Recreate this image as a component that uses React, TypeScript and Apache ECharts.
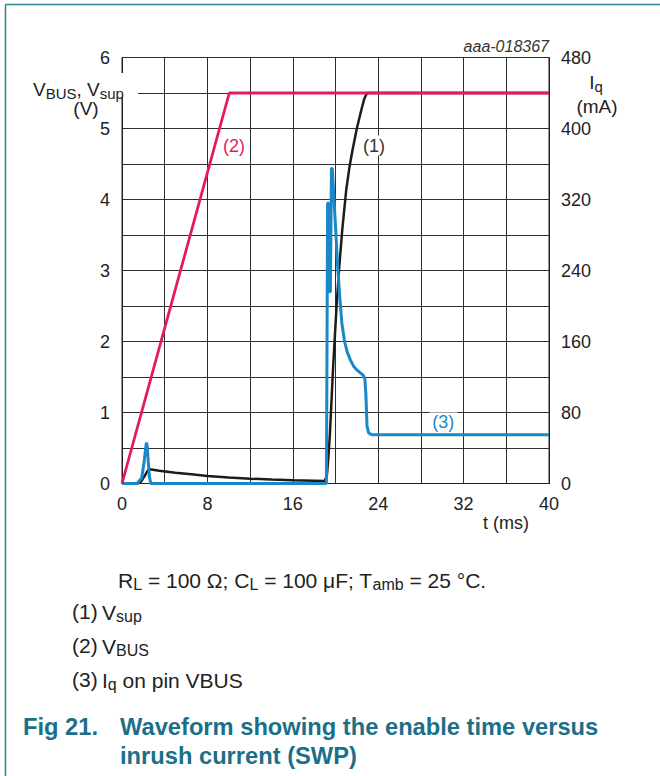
import React, { useEffect, useRef } from "react";
import * as echarts from "echarts";

const FONT = '"Liberation Sans", Arial, Helvetica, sans-serif';
const TEAL = "#1b6f88";
const BORDER = "#2a8595";
const RED = "#e6195c";
const BLUE = "#1a87c8";
const BLACK = "#1c1c1c";
const TXT = "#222222";

// VBUS (V), curve (2)
const tVbus = [0, 10.05, 40];
const vVbus = [0, 5.5, 5.5];

// Vsup (V), curve (1)
const tVsup = [0, 1.5, 1.8, 2.1, 2.4, 2.6, 3.5, 5, 6.5, 8, 10, 12, 14, 16, 18, 19.0, 19.2, 19.35, 19.48, 19.63, 19.78, 19.95, 20.1, 20.35, 20.63, 21.0, 21.3, 21.6, 22.0, 22.4, 22.7, 22.95, 40];
const vVsup = [0, 0, 0.03, 0.1, 0.18, 0.2, 0.18, 0.15, 0.13, 0.105, 0.085, 0.068, 0.055, 0.045, 0.04, 0.035, 0.12, 0.4, 0.71, 1.18, 1.65, 2.1, 2.5, 3.05, 3.57, 4.13, 4.45, 4.7, 5.0, 5.25, 5.42, 5.5, 5.5];

// Iq (mA), curve (3)
const tIq = [0, 1.4, 1.84, 2.06, 2.25, 2.31, 2.38, 2.43, 2.56, 2.7, 19.15, 19.22, 19.26, 19.34, 19.4, 19.52, 19.62, 19.7, 19.85, 20.0, 20.2, 20.4, 20.6, 20.85, 21.1, 21.4, 21.7, 22.0, 22.3, 22.6, 22.75, 22.85, 22.95, 23.1, 23.4, 40];
const iIq = [0, 0, 6, 23, 43, 46, 40, 30, 8, 0, 0, 200, 316, 316, 216, 216, 355, 355, 322, 290, 245, 210, 180, 160, 148, 139, 132, 128, 125, 122, 118, 100, 65, 57, 55, 55];

const curveLabels = [
  { text: "(1)", t: 23.6, v: 4.76, color: "#333333" },
  { text: "(2)", t: 10.5, v: 4.75, color: RED },
  { text: "(3)", t: 30.1, v: 0.86, color: BLUE },
];

const zip = (a: number[], b: number[]) => a.map((x, i) => [x, b[i]]);

const rich = (size: number, color: string, lh = size + 2) => ({
  n: { fontSize: size, fontFamily: FONT, color, lineHeight: lh },
  s: { fontSize: Math.round(size * 0.78), fontFamily: FONT, color, lineHeight: lh, padding: [Math.round(size * 0.42), 0, 0, 0] },
});

export default function App() {
  const ref = useRef<HTMLDivElement>(null);
  useEffect(() => {
    document.body.style.margin = "0";
    const chart = echarts.init(ref.current!, null, { renderer: "svg", width: 660, height: 776 });
    const axisLabelBase = { fontSize: 18, color: TXT, fontFamily: FONT };
    chart.setOption({
      animation: false,
      backgroundColor: "#ffffff",
      grid: { left: 122, top: 57.5, width: 427, height: 426, show: true, borderColor: "#222", borderWidth: 1 },
      xAxis: {
        type: "value", min: 0, max: 40, interval: 4,
        axisLine: { show: true, lineStyle: { color: "#222", width: 1 } },
        axisTick: { show: false },
        splitLine: { show: true, lineStyle: { color: "#2e2e2e", width: 1 } },
        axisLabel: { ...axisLabelBase, margin: 11, formatter: (v: number) => (v % 8 === 0 ? String(v) : "") },
      },
      yAxis: [
        {
          type: "value", min: 0, max: 6, interval: 0.5,
          axisLine: { show: true, lineStyle: { color: "#222", width: 1 } },
          axisTick: { show: false },
          splitLine: { show: true, lineStyle: { color: "#2e2e2e", width: 1 } },
          axisLabel: { ...axisLabelBase, margin: 12, formatter: (v: number) => (Number.isInteger(v) ? String(v) : "") },
        },
        {
          type: "value", min: 0, max: 480, interval: 40, position: "right",
          axisLine: { show: true, lineStyle: { color: "#222", width: 1 } },
          axisTick: { show: false },
          splitLine: { show: false },
          axisLabel: { ...axisLabelBase, margin: 12, formatter: (v: number) => (v % 80 === 0 ? String(v) : "") },
        },
      ],
      series: [
        { name: "Vsup", type: "line", data: zip(tVsup, vVsup), symbol: "none", lineStyle: { color: BLACK, width: 2.5 }, z: 3 },
        { name: "Iq", type: "line", yAxisIndex: 1, data: zip(tIq, iIq), symbol: "none", lineStyle: { color: BLUE, width: 3 }, z: 4 },
        { name: "VBUS", type: "line", data: zip(tVbus, vVbus), symbol: "none", lineStyle: { color: RED, width: 2.8 }, z: 5 },
      ],
    });

    const labelEls = curveLabels.map((l) => {
      const p = chart.convertToPixel({ gridIndex: 0 }, [l.t, l.v]) as number[];
      return {
        type: "text", x: p[0], y: p[1], z: 100,
        style: { text: l.text, fill: l.color, font: `18px ${FONT}`, align: "center", verticalAlign: "middle", backgroundColor: "#fff", padding: [1, 3] },
      };
    });

    const t = (text: string, x: number, y: number, size: number, color: string, opts: any = {}) => ({
      type: "text", x, y, z: 100,
      style: { text, fill: color, font: `${opts.style || ""} ${opts.bold ? "bold" : ""} ${size}px ${FONT}`, align: opts.align || "left", verticalAlign: "middle" },
    });
    const rt = (text: string, x: number, y: number, size: number, color: string, align = "left", lh?: number) => ({
      type: "text", x, y, z: 100,
      style: { text, rich: rich(size, color, lh), align, verticalAlign: "middle", fill: color },
    });

    chart.setOption({
      graphic: [
        { type: "line", z: 100, shape: { x1: 5.5, y1: 4.5, x2: 660, y2: 4.5 }, style: { stroke: BORDER, lineWidth: 1.5 } },
        { type: "line", z: 100, shape: { x1: 5.5, y1: 4.5, x2: 5.5, y2: 776 }, style: { stroke: BORDER, lineWidth: 1.5 } },
        { type: "rect", z: 99, shape: { x: 28, y: 73, width: 110, height: 24 }, style: { fill: "#fff" } },
        rt("{n|V}{s|BUS}{n|, V}{s|sup}", 33, 89, 19, TXT, "left", 16),
        rt("{n|(V)}", 86, 108, 19, TXT, "center", 11),
        rt("{n|I}{s|q}", 596, 82, 19, TXT, "center", 16),
        rt("{n|(mA)}", 597, 106, 19, TXT, "center", 12),
        t("aaa-018367", 549, 46, 16, "#333", { align: "right", style: "italic" }),
        t("t (ms)", 506, 523, 18, TXT, { align: "center" }),
        ...labelEls,
        rt("{n|R}{s|L}{n| = 100 Ω; C}{s|L}{n| = 100 μF; T}{s|amb}{n| = 25 °C.}", 118, 580, 21, TXT),
        t("(1)", 72, 611, 21, TXT),
        rt("{n|V}{s|sup}", 102, 612, 21, TXT),
        t("(2)", 72, 645, 21, TXT),
        rt("{n|V}{s|BUS}", 102, 646, 21, TXT),
        t("(3)", 72, 679, 21, TXT),
        rt("{n|I}{s|q}{n| on pin VBUS}", 102, 680, 21, TXT),
        t("Fig 21.", 23, 727, 23.7, TEAL, { bold: true }),
        t("Waveform showing the enable time versus", 120, 727, 23.7, TEAL, { bold: true }),
        t("inrush current (SWP)", 120, 756, 23.7, TEAL, { bold: true }),
      ],
    });
    return () => chart.dispose();
  }, []);
  return <div ref={ref} style={{ position: "absolute", left: 0, top: 0, width: 660, height: 776 }} />;
}
